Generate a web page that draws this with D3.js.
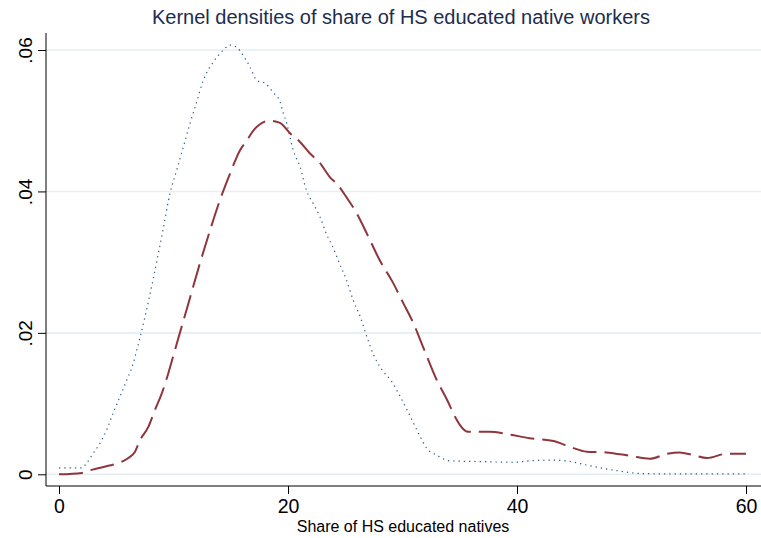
<!DOCTYPE html>
<html>
<head>
<meta charset="utf-8">
<script src="https://cdn.jsdelivr.net/npm/d3@7"></script>
<style>
  html, body { margin: 0; padding: 0; background: #fff; }
  svg { display: block; font-family: "Liberation Sans", Arial, sans-serif; }
</style>
</head>
<body>
<svg id="chart" width="761" height="538"></svg>
<script>
// ---- data ----
const title = "Kernel densities of share of HS educated native workers";
const xTitle = "Share of HS educated natives";
const xTicks = [0, 20, 40, 60];
const yTicks = [0, 0.02, 0.04, 0.06];
const yTickLabels = ["0", ".02", ".04", ".06"];

// dotted (navy) density
const blueX = [0, 1, 2, 2.42, 3.0, 3.58, 4.17, 4.74, 5.33, 5.91, 6.49, 6.72, 7.5, 8.3, 9.11, 9.69, 10.28, 10.86, 11.44, 12.03, 12.6, 13.48, 14.35, 14.93, 15.5, 16.1, 16.68, 17.27, 18.0, 18.7, 19.3, 19.6, 19.9, 20.17, 20.46, 21.05, 21.6, 22.2, 22.8, 23.35, 23.9, 24.5, 25.1, 25.7, 26.3, 26.9, 27.5, 28.2, 29.06, 29.8, 30.4, 30.97, 31.55, 32.1, 33.0, 34.1, 36.8, 39.7, 41.1, 42.9, 44.3, 46.1, 48.4, 51.0, 54.2, 57, 60];
const blueY = [0.0009, 0.0009, 0.0009, 0.0016, 0.003, 0.0044, 0.0063, 0.0087, 0.011, 0.0133, 0.0157, 0.0171, 0.0222, 0.0282, 0.0348, 0.0397, 0.043, 0.0463, 0.0496, 0.0527, 0.0557, 0.0583, 0.0600, 0.0607, 0.0604, 0.0592, 0.0576, 0.0557, 0.0553, 0.054, 0.0527, 0.051, 0.0496, 0.0477, 0.0458, 0.0435, 0.0402, 0.0383, 0.0364, 0.034, 0.0322, 0.0298, 0.0275, 0.0246, 0.0223, 0.0194, 0.0168, 0.0148, 0.0131, 0.011, 0.0091, 0.0072, 0.0053, 0.0037, 0.0027, 0.0019, 0.0018, 0.0017, 0.0019, 0.002, 0.0019, 0.0013, 0.0006, 0.0001, 0.00005, 0.00005, 0.00005];

// long-dashed (maroon) density
const redX = [0, 2, 2.56, 4.3, 5.04, 6.05, 6.64, 7.07, 7.8, 8.38, 8.97, 9.55, 10.13, 11.2, 12.3, 13.19, 14.06, 14.93, 15.8, 16.4, 16.97, 17.55, 18.4, 19.3, 20.2, 21.05, 21.9, 22.8, 23.67, 24.25, 25.1, 26.0, 26.9, 28.0, 29.2, 30.07, 30.97, 31.8, 33.0, 33.9, 34.6, 35.0, 35.75, 37.6, 39.1, 41.1, 43.2, 44.6, 46.1, 47.8, 49.9, 51.6, 53.1, 54.2, 55.4, 56.6, 58.3, 60];
const redY = [0.0000, 0.0002, 0.0005, 0.0012, 0.0015, 0.0023, 0.0032, 0.0048, 0.0067, 0.0091, 0.0114, 0.0143, 0.0176, 0.0236, 0.0298, 0.0345, 0.0388, 0.0425, 0.0458, 0.0472, 0.0486, 0.0495, 0.0500, 0.0497, 0.0482, 0.047, 0.0454, 0.044, 0.042, 0.0411, 0.0392, 0.0369, 0.034, 0.0303, 0.027, 0.0242, 0.0213, 0.018, 0.0133, 0.0105, 0.0081, 0.007, 0.006, 0.006, 0.0057, 0.0051, 0.0047, 0.0039, 0.0032, 0.0031, 0.0026, 0.0022, 0.0029, 0.0031, 0.0027, 0.0023, 0.0029, 0.0029];

// ---- drawing ----
const svg = d3.select("#chart");
const W = 761, H = 538;
const plotLeft = 46, plotRight = 761, plotTop = 33, plotBottom = 486;

const x = d3.scaleLinear().domain([0, 60]).range([59, 746]);
const y = d3.scaleLinear().domain([0, 0.06]).range([474.3, 50]);

// title
svg.append("text")
  .attr("x", 401).attr("y", 24)
  .attr("text-anchor", "middle")
  .attr("font-size", 20)
  .attr("fill", "#1c2d4f")
  .text(title);

// gridlines
svg.append("g").selectAll("line").data(yTicks).join("line")
  .attr("x1", plotLeft).attr("x2", plotRight)
  .attr("y1", d => y(d)).attr("y2", d => y(d))
  .attr("stroke", "#e6eef1").attr("stroke-width", 1.6);

// y axis
const yAxis = d3.axisLeft(y).tickValues(yTicks)
  .tickFormat((d, i) => yTickLabels[i]).tickSize(8).tickSizeOuter(0);
const gy = svg.append("g").attr("transform", `translate(${plotLeft},0)`).call(yAxis);
gy.select(".domain").remove();
gy.append("line").attr("x1", 0).attr("x2", 0).attr("y1", plotTop).attr("y2", plotBottom)
  .attr("stroke", "#000").attr("stroke-width", 1);
gy.selectAll(".tick line").attr("stroke", "#000");
gy.selectAll(".tick text")
  .attr("font-size", 19).attr("font-family", "Liberation Sans, Arial, sans-serif")
  .attr("fill", "#000")
  .attr("text-anchor", "middle")
  .attr("x", 0).attr("dy", 0)
  .attr("transform", "translate(-14,0) rotate(-90)");

// x axis
const xAxis = d3.axisBottom(x).tickValues(xTicks).tickSize(8).tickSizeOuter(0);
const gx = svg.append("g").attr("transform", `translate(0,${plotBottom})`).call(xAxis);
gx.select(".domain").remove();
gx.append("line").attr("x1", plotLeft).attr("x2", plotRight).attr("y1", 0).attr("y2", 0)
  .attr("stroke", "#000").attr("stroke-width", 1);
gx.selectAll(".tick line").attr("stroke", "#000");
gx.selectAll(".tick text")
  .attr("font-size", 19.5).attr("font-family", "Liberation Sans, Arial, sans-serif")
  .attr("fill", "#000").attr("y", 27).attr("dy", 0);

// x title
svg.append("text")
  .attr("x", 403).attr("y", 532)
  .attr("text-anchor", "middle")
  .attr("font-size", 16)
  .attr("fill", "#000")
  .text(xTitle);

// lines
const line = d3.line().x(d => x(d[0])).y(d => y(d[1])).curve(d3.curveMonotoneX);
const blue = blueX.map((v, i) => [v, blueY[i]]);
const red = redX.map((v, i) => [v, redY[i]]);

svg.append("path").datum(blue)
  .attr("d", line).attr("fill", "none")
  .attr("stroke", "#2a5b8c").attr("stroke-width", 1.2)
  .attr("stroke-dasharray", "1.3,4");

svg.append("path").datum(red)
  .attr("d", line).attr("fill", "none")
  .attr("stroke", "#90353b").attr("stroke-width", 2)
  .attr("stroke-dasharray", "24,8");
</script>
</body>
</html>
